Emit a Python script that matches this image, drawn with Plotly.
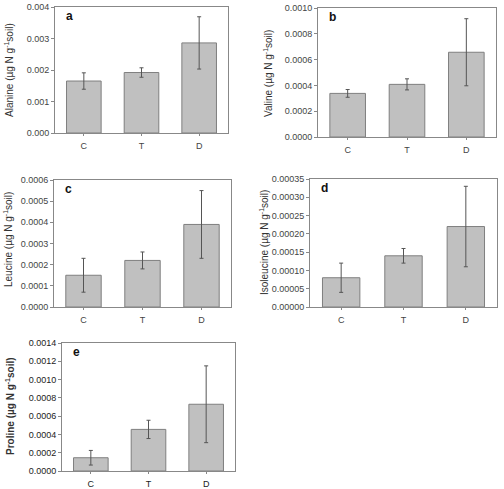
import plotly.graph_objects as go

W, H = 504, 489
categories = ["C", "T", "D"]

alanine = [0.00165, 0.00192, 0.00286]
alanine_err = [0.00026, 0.00015, 0.00083]
valine = [0.000338, 0.000408, 0.000657]
valine_err = [0.00003, 0.000043, 0.00026]
leucine = [0.00015, 0.00022, 0.00039]
leucine_err = [0.00008, 0.00004, 0.00016]
isoleucine = [0.00008, 0.00014, 0.00022]
isoleucine_err = [0.00004, 0.00002, 0.00011]
proline = [0.000145, 0.000455, 0.00073]
proline_err = [0.00008, 0.0001, 0.00042]

panels = [
    dict(vals=alanine, err=alanine_err, name="Alanine", letter="a",
         px=(55, 228), py=(7, 133), rng=0.004, dtick=0.001, fmt=".3f",
         title_xy=(9, 70), bold=False),
    dict(vals=valine, err=valine_err, name="Valine", letter="b",
         px=(318, 496), py=(8, 137), rng=0.001, dtick=0.0002, fmt=".4f",
         title_xy=(268, 74), bold=False),
    dict(vals=leucine, err=leucine_err, name="Leucine", letter="c",
         px=(54, 231), py=(180, 307), rng=0.0006, dtick=0.0001, fmt=".4f",
         title_xy=(8, 240), bold=False),
    dict(vals=isoleucine, err=isoleucine_err, name="Isoleucine", letter="d",
         px=(310, 497), py=(179, 307), rng=0.00035, dtick=0.00005, fmt=".5f",
         title_xy=(264, 243), bold=False),
    dict(vals=proline, err=proline_err, name="Proline", letter="e",
         px=(62, 235), py=(343, 471), rng=0.0014, dtick=0.0002, fmt=".4f",
         title_xy=(10, 406), bold=True),
]

fig = go.Figure()
annotations = []
font_family = "Liberation Sans, Arial, sans-serif"
for i, p in enumerate(panels):
    n = i + 1
    xa = "x" if n == 1 else f"x{n}"
    ya = "y" if n == 1 else f"y{n}"
    fig.add_trace(go.Bar(
        x=categories, y=p["vals"], xaxis=xa, yaxis=ya, width=0.6,
        marker=dict(color="#c0c0c0", line=dict(color="#7f7f7f", width=1)),
        error_y=dict(type="data", array=p["err"], visible=True,
                     color="#555555", thickness=1, width=2),
        showlegend=False, hoverinfo="skip",
    ))
    xkey = "xaxis" if n == 1 else f"xaxis{n}"
    ykey = "yaxis" if n == 1 else f"yaxis{n}"
    tickcol = "#222222" if p["bold"] else "#444444"
    fig.layout[xkey] = dict(
        domain=[p["px"][0] / W, p["px"][1] / W], anchor=ya, automargin=False,
        showline=True, linecolor="#888888", mirror=True,
        ticks="outside", ticklen=2, tickcolor="#888888",
        tickfont=dict(size=9, color=tickcol, family=font_family),
        showgrid=False, range=[-0.5, 2.5], ticklabelstandoff=2,
    )
    fig.layout[ykey] = dict(
        domain=[1 - p["py"][1] / H, 1 - p["py"][0] / H], anchor=xa,
        automargin=False,
        range=[0, p["rng"]], dtick=p["dtick"], tickformat=p["fmt"],
        showline=True, linecolor="#888888", mirror=True, ticks="outside",
        ticklen=3, tickcolor="#888888", showgrid=False, zeroline=False,
        tickfont=dict(size=9, color=tickcol, family=font_family),
    )
    t = f"{p['name']} (µg N g<sup>-1</sup>soil)"
    if p["bold"]:
        t = f"<b>{t}</b>"
    annotations.append(dict(
        text=t, textangle=-90, xref="paper", yref="paper",
        x=p["title_xy"][0] / W, y=1 - p["title_xy"][1] / H,
        xanchor="center", yanchor="middle", showarrow=False,
        font=dict(size=10, color="#333333", family=font_family),
    ))
    annotations.append(dict(
        text=f"<b>{p['letter']}</b>", xref=f"{xa} domain", yref=f"{ya} domain",
        x=0.05, y=0.93, xanchor="left", yanchor="middle", showarrow=False,
        font=dict(size=12, color="#111111", family=font_family),
    ))

fig.update_layout(
    width=W, height=H, margin=dict(l=0, r=0, t=0, b=0),
    paper_bgcolor="white", plot_bgcolor="white",
    annotations=annotations, bargap=0.4, hovermode=False,
)
fig.write_html("out.html", config={"displayModeBar": False},
               post_script="document.body.style.margin='0';document.body.style.overflow='hidden';")
